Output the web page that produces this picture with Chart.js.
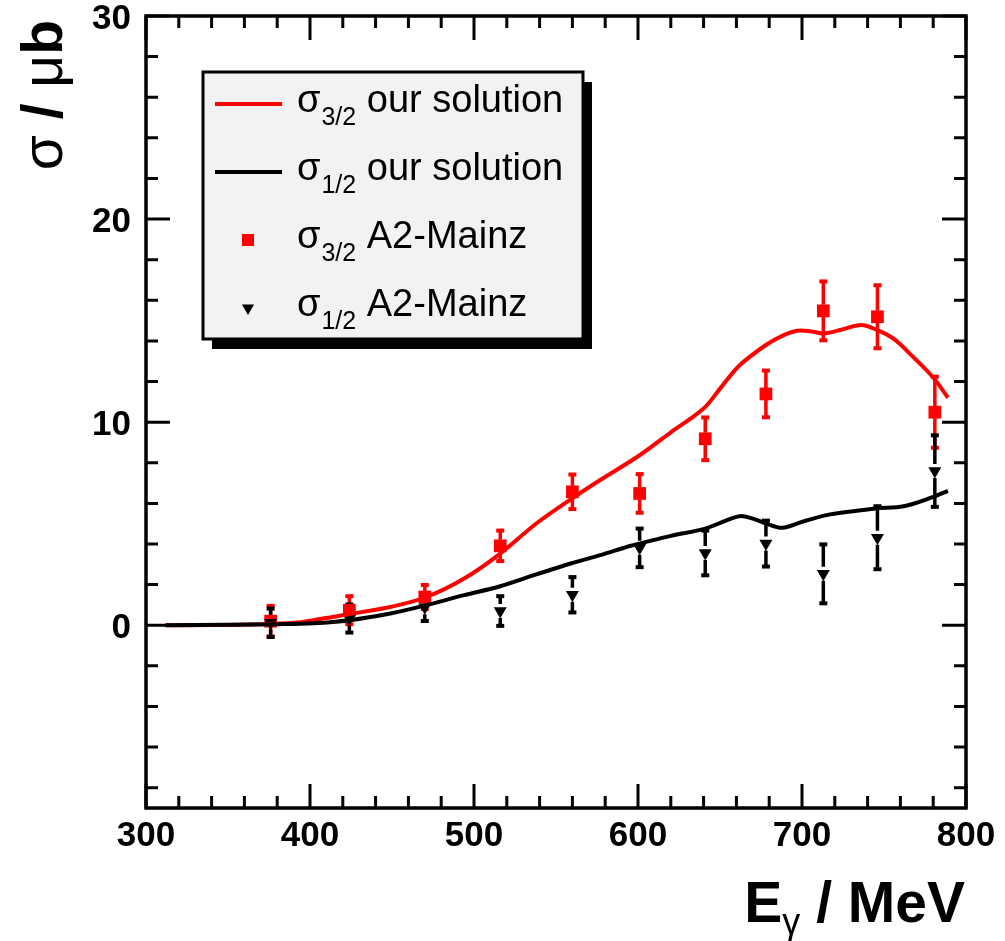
<!DOCTYPE html>
<html>
<head>
<meta charset="utf-8">
<script src="https://cdn.jsdelivr.net/npm/chart.js@4.4.1/dist/chart.umd.min.js"></script>
<style>
  html, body { margin: 0; padding: 0; background: #ffffff; }
  canvas { display: block; }
</style>
</head>
<body>
<canvas id="c" width="1005" height="941"></canvas>
<script>
const FONT = '"Liberation Sans", Arial, Helvetica, sans-serif';

// Photon energies of the measured points (MeV)
const dataEnergy = [376, 424, 470, 516, 560, 601, 641, 678, 713, 746, 781];
// sigma_3/2 measurement (micro-barn) and its uncertainty
const sigma32Data = [0.2, 0.74, 1.39, 3.91, 6.57, 6.49, 9.18, 11.39, 15.48, 15.19, 10.49];
const sigma32Err  = [0.8, 0.74, 0.64, 0.8, 0.9, 1.0, 1.1, 1.2, 1.5, 1.6, 1.8];
// sigma_1/2 measurement (micro-barn) and its uncertainty
const sigma12Data = [0.12, 0.33, 0.88, 0.7, 1.5, 3.81, 3.56, 4.02, 2.53, 4.31, 7.59];
const sigma12Err  = [0.75, 0.74, 0.72, 0.78, 0.92, 1.0, 1.15, 1.18, 1.5, 1.6, 1.81];

// Model curve, sigma_3/2
const curve32Energy = [312, 340, 370, 390, 402, 424, 449, 471, 494, 516, 538, 559, 577, 601, 620, 640, 651, 662, 678, 688, 697, 705, 713, 724, 736, 746, 756, 766, 780, 789];
const curve32Value  = [0, 0.01, 0.05, 0.12, 0.25, 0.55, 0.9, 1.39, 2.3, 3.53, 5.01, 6.2, 7.15, 8.37, 9.5, 10.67, 11.75, 12.8, 13.8, 14.25, 14.5, 14.48, 14.37, 14.55, 14.78, 14.53, 14.1, 13.35, 12.2, 11.2];
// Model curve, sigma_1/2
const curve12Energy = [312, 350, 380, 402, 424, 449, 471, 494, 516, 538, 559, 577, 595, 601, 620, 641, 652, 662, 670, 678, 688, 700, 715, 730, 745, 762, 780, 789];
const curve12Value  = [0, 0.02, 0.05, 0.1, 0.25, 0.58, 0.99, 1.48, 1.92, 2.5, 3.04, 3.45, 3.9, 4.02, 4.4, 4.76, 5.1, 5.37, 5.25, 5.01, 4.8, 5.09, 5.42, 5.6, 5.75, 5.86, 6.32, 6.62];

// Axis ticks
const xTickValues = [300, 400, 500, 600, 700, 800];
const yTickValues = [0, 10, 20, 30];
const xMinorStep = 20;
const yMinorStep = 2;

// Legend entries
const legendSubs  = ['3/2', '1/2', '3/2', '1/2'];
const legendTexts = ['our solution', 'our solution', 'A2-Mainz', 'A2-Mainz'];
const legendKinds = ['line', 'line', 'square', 'triangle'];
const legendColors = ['#ff0000', '#000000', '#ff0000', '#000000'];

const toPoints = (xs, ys) => xs.map((e, i) => ({ x: e, y: ys[i] }));

// Vertical error bars with small caps, leaving room for the marker
const errorBars = {
  id: 'errorBars',
  beforeDatasetsDraw(chart) {
    const { ctx, scales: { x, y } } = chart;
    const sets = [
      [sigma32Data, sigma32Err, '#ff0000', 6],
      [sigma12Data, sigma12Err, '#000000', 7]
    ];
    ctx.save();
    for (const [vals, errs, color, gap] of sets) {
      ctx.strokeStyle = color;
      ctx.lineWidth = 3.5;
      vals.forEach((v, i) => {
        const px = x.getPixelForValue(dataEnergy[i]);
        const pc = y.getPixelForValue(v);
        const pt = y.getPixelForValue(v + errs[i]);
        const pb = y.getPixelForValue(v - errs[i]);
        ctx.beginPath();
        ctx.moveTo(px, pt); ctx.lineTo(px, pc - gap);
        ctx.moveTo(px, pc + gap); ctx.lineTo(px, pb);
        ctx.stroke();
        ctx.fillStyle = color;
        ctx.fillRect(px - 4, pt - 1, 8, 4);
        ctx.fillRect(px - 4, pb - 3, 8, 4);
      });
    }
    ctx.restore();
  }
};

// Frame with inward ticks on all four sides
const frameTicks = {
  id: 'frameTicks',
  afterDatasetsDraw(chart) {
    const { ctx, chartArea: { left, right, top, bottom }, scales: { x, y } } = chart;
    ctx.save();
    ctx.strokeStyle = '#000';
    ctx.lineWidth = 3.5;
    ctx.strokeRect(left, top, right - left, bottom - top);
    ctx.lineWidth = 3;
    ctx.beginPath();
    for (let v = x.min; v <= x.max + 1e-9; v += xMinorStep) {
      const px = x.getPixelForValue(v);
      const len = xTickValues.includes(v) ? 24 : 12;
      ctx.moveTo(px, bottom); ctx.lineTo(px, bottom - len);
      ctx.moveTo(px, top); ctx.lineTo(px, top + len);
    }
    const yStart = Math.ceil(y.min / yMinorStep) * yMinorStep;
    for (let v = yStart; v <= y.max + 1e-9; v += yMinorStep) {
      const py = y.getPixelForValue(v);
      const len = (v % 10 === 0) ? 24 : 12;
      ctx.moveTo(left, py); ctx.lineTo(left + len, py);
      ctx.moveTo(right, py); ctx.lineTo(right - len, py);
    }
    ctx.stroke();
    ctx.restore();
  }
};

function drawSquare(ctx, cx, cy, half, color) {
  ctx.fillStyle = color;
  ctx.fillRect(cx - half, cy - half, half * 2, half * 2);
}
function drawTriangleDown(ctx, cx, cy, r, color) {
  ctx.fillStyle = color;
  ctx.beginPath();
  ctx.moveTo(cx, cy + r);
  ctx.lineTo(cx - r * 0.866, cy - r * 0.5);
  ctx.lineTo(cx + r * 0.866, cy - r * 0.5);
  ctx.closePath();
  ctx.fill();
}

// Axis titles and the legend box
const annotations = {
  id: 'annotations',
  afterDraw(chart) {
    const { ctx, chartArea: { right, top } } = chart;
    ctx.save();
    ctx.fillStyle = '#000';
    ctx.textBaseline = 'alphabetic';

    // x-axis title: E_gamma / MeV, right aligned with the axis end
    const xParts = [
      { t: 'E', f: `bold 57px ${FONT}`, dy: 0 },
      { t: 'γ', f: `36px ${FONT}`, dy: 12 },
      { t: ' / MeV', f: `bold 57px ${FONT}`, dy: 0 }
    ];
    let total = 0;
    xParts.forEach(p => { ctx.font = p.f; p.w = ctx.measureText(p.t).width; total += p.w; });
    let cx = right - 1 - total;
    const xBase = 922;
    xParts.forEach(p => { ctx.font = p.f; ctx.fillText(p.t, cx, xBase + p.dy); cx += p.w; });

    // y-axis title: sigma / mu b, rotated, ending at the top of the axis
    const yParts = [
      { t: 'σ', f: `57px ${FONT}` },
      { t: ' / ', f: `bold 57px ${FONT}` },
      { t: 'μ', f: `57px ${FONT}` },
      { t: 'b', f: `bold 57px ${FONT}` }
    ];
    total = 0;
    yParts.forEach(p => { ctx.font = p.f; p.w = ctx.measureText(p.t).width; total += p.w; });
    ctx.save();
    ctx.translate(62, top + 4);
    ctx.rotate(-Math.PI / 2);
    let cy = -total;
    yParts.forEach(p => { ctx.font = p.f; ctx.fillText(p.t, cy, 0); cy += p.w; });
    ctx.restore();

    // legend box with drop shadow
    const bx = 203, by = 72, bw = 380, bh = 267;
    ctx.fillStyle = '#000';
    ctx.fillRect(bx + 9, by + 10, bw, bh);
    ctx.fillStyle = '#f2f2f2';
    ctx.fillRect(bx, by, bw, bh);
    ctx.strokeStyle = '#000';
    ctx.lineWidth = 3;
    ctx.strokeRect(bx, by, bw, bh);

    const baselines = [112, 180, 248, 316];
    legendTexts.forEach((txt, i) => {
      const base = baselines[i];
      const sy = base - 8;
      if (legendKinds[i] === 'line') {
        ctx.strokeStyle = legendColors[i];
        ctx.lineWidth = 4;
        ctx.beginPath(); ctx.moveTo(215, sy); ctx.lineTo(282, sy); ctx.stroke();
      } else if (legendKinds[i] === 'square') {
        drawSquare(ctx, 248, sy, 6, legendColors[i]);
      } else {
        drawTriangleDown(ctx, 248, sy, 7, legendColors[i]);
      }
      ctx.fillStyle = '#000';
      let tx = 297;
      ctx.font = `38px ${FONT}`;
      ctx.fillText('σ', tx, base);
      tx += ctx.measureText('σ').width + 1;
      ctx.font = `25px ${FONT}`;
      ctx.fillText(legendSubs[i], tx, base + 13);
      tx += ctx.measureText(legendSubs[i]).width;
      ctx.font = `38px ${FONT}`;
      ctx.fillText(' ' + txt, tx, base);
    });
    ctx.restore();
  }
};

const tickFont = { family: FONT, size: 35, weight: 'bold' };

// Keep the plot frame exactly where the layout padding puts it
const noOverflow = s => { s.paddingTop = 0; s.paddingBottom = 0; s.paddingLeft = 0; s.paddingRight = 0; };

new Chart(document.getElementById('c'), {
  type: 'scatter',
  data: {
    datasets: [
      {
        label: 'σ1/2 our solution',
        data: toPoints(curve12Energy, curve12Value),
        showLine: true, borderColor: '#000000', borderWidth: 4,
        pointRadius: 0, tension: 0.35, fill: false
      },
      {
        label: 'σ3/2 our solution',
        data: toPoints(curve32Energy, curve32Value),
        showLine: true, borderColor: '#ff0000', borderWidth: 4,
        pointRadius: 0, tension: 0.35, fill: false
      },
      {
        label: 'σ1/2 A2-Mainz',
        data: toPoints(dataEnergy, sigma12Data),
        pointStyle: 'triangle', pointRotation: 180, pointRadius: 7.5,
        pointBackgroundColor: '#000000', pointBorderColor: '#000000', pointBorderWidth: 0
      },
      {
        label: 'σ3/2 A2-Mainz',
        data: toPoints(dataEnergy, sigma32Data),
        pointStyle: 'rect', pointRadius: 9,
        pointBackgroundColor: '#ff0000', pointBorderColor: '#ff0000', pointBorderWidth: 0
      }
    ]
  },
  options: {
    responsive: false,
    devicePixelRatio: 1,
    animation: false,
    events: [],
    layout: { padding: { top: 16, right: 39, left: 0, bottom: 0 } },
    plugins: { legend: { display: false }, tooltip: { enabled: false } },
    scales: {
      x: {
        type: 'linear', position: 'bottom', min: 300, max: 800,
        afterBuildTicks: s => { s.ticks = xTickValues.map(v => ({ value: v })); },
        afterFit: s => { s.height = 133; noOverflow(s); },
        grid: { display: false, drawTicks: false },
        border: { display: false },
        ticks: { font: tickFont, color: '#000', padding: 7, autoSkip: false, maxRotation: 0 }
      },
      y: {
        type: 'linear', position: 'left', min: -9, max: 30,
        afterBuildTicks: s => { s.ticks = yTickValues.map(v => ({ value: v })); },
        afterFit: s => { s.width = 146; noOverflow(s); },
        grid: { display: false, drawTicks: false },
        border: { display: false },
        ticks: { font: tickFont, color: '#000', padding: 15, labelOffset: 3, autoSkip: false }
      }
    }
  },
  plugins: [errorBars, frameTicks, annotations]
});
</script>
</body>
</html>
